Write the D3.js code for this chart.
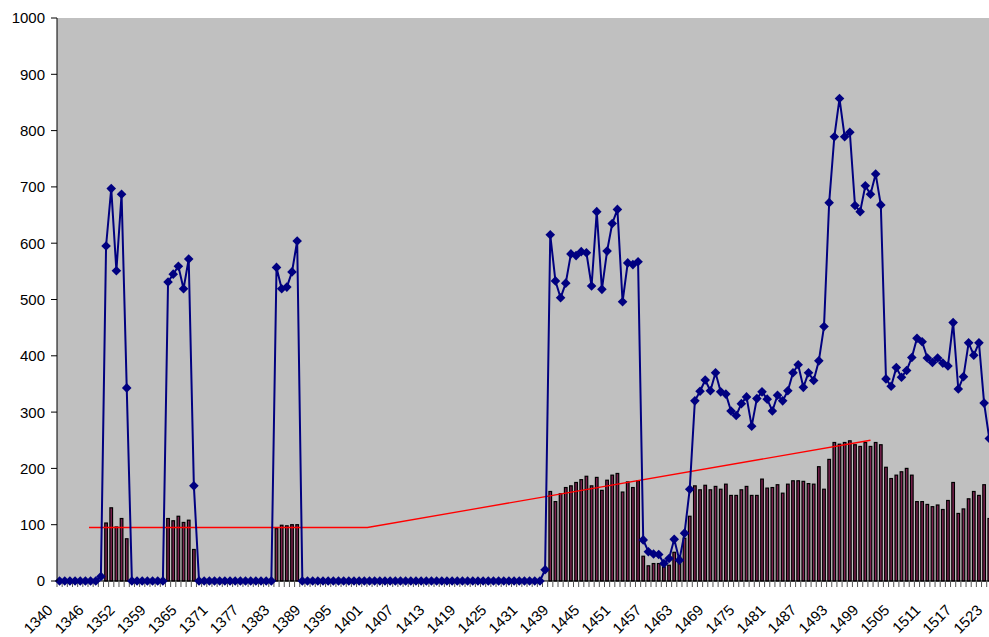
<!DOCTYPE html>
<html><head><meta charset="utf-8">
<script src="https://cdn.jsdelivr.net/npm/d3@7"></script>
<style>
body{margin:0;background:#fff;overflow:hidden}
text{font-family:"Liberation Sans",Arial,sans-serif;fill:#000}
</style>
</head><body><svg id="c" width="989" height="637"></svg>
<script>
// ---- categories (years; a few years are absent from the source series) ----
const years = [
1340,1341,1342,1343,1344,1345,1346,1347,1348,1349,1350,1351,1352,
1353,1354,1355,1356,1358,
1359,1360,1361,1362,1363,1364,1365,1366,1367,1368,1369,1370,1371,1372,1373,1374,1375,1376,1377,1378,1379,1380,
1381,1382,1383,1384,1385,1386,1387,1388,1389,1390,1391,1392,1393,1394,1395,1396,1397,1398,1399,1400,
1401,1402,1403,1404,1405,1406,1407,1408,1409,1410,1411,1412,1413,1414,1415,1416,1417,1418,1419,1420,
1421,1422,1423,1424,1425,1426,1427,1428,1429,1430,1431,
1432,1433,1434,1437,1438,
1439,1440,1441,1442,1443,1444,1445,1446,1447,1448,1449,1450,1451,1452,1453,1454,1455,1456,1457,1458,
1459,1460,1461,1462,1463,1464,1465,1466,1467,1468,1469,1470,1471,1472,1473,1474,1475,1476,1477,1478,
1479,1480,1481,1482,1483,1484,1485,1486,1487,1488,1489,1490,1491,1492,1493,1494,1495,1496,1497,1498,
1499,1500,1501,1502,1503,1504,1505,1506,1507,1508,1509,1510,1511,1512,1513,1514,1515,1516,1517,1518,
1519,1520,1521,1522,1523
];

// ---- line series (blue, diamonds) ----
const lineValues = [
0,0,0,0,0,0,0,0,8,595,697,551,687,343,
0,0,0,0,0,0,0,
531,545,559,519,572,169,
0,0,0,0,0,0,0,0,0,0,0,0,0,0,0,
557,519,522,549,604,
0,0,0,0,0,0,0,0,0,0,0,0,0,0,0,0,0,0,0,0,0,0,0,0,
0,0,0,0,0,0,0,0,0,0,0,0,0,0,0,0,0,0,0,0,0,0,0,
20,615,533,503,529,581,578,585,583,524,656,518,586,635,660,496,565,562,567,
73,52,48,47,31,40,74,37,85,163,
320,337,357,338,370,336,332,302,294,315,327,275,324,336,323,302,330,320,338,370,
384,344,370,356,391,452,672,789,857,789,797,667,656,702,687,723,668,
359,346,379,362,374,397,431,425,396,388,396,387,382,459,341,363,423,401,423,316,253
];

// ---- bar series ----
const barValues = [
0,0,0,0,0,0,0,0,0,103,130,96,111,75,
0,0,0,0,0,0,0,
111,107,115,104,108,56,
0,0,0,0,0,0,0,0,0,0,0,0,0,0,0,
93,99,98,100,100,
0,0,0,0,0,0,0,0,0,0,0,0,0,0,0,0,0,0,0,0,0,0,0,0,
0,0,0,0,0,0,0,0,0,0,0,0,0,0,0,0,0,0,0,0,0,0,0,0,
159,141,155,166,169,175,180,186,169,184,161,179,188,191,158,176,166,178,
44,27,31,31,25,28,51,43,76,115,
169,162,170,162,168,163,172,152,152,162,168,152,152,181,165,166,171,156,172,178,
178,177,173,172,203,163,216,246,243,246,249,242,239,246,239,246,242,
202,182,188,194,200,188,141,141,136,132,135,127,143,175,120,128,146,159,152,171,111
];

// ---- tick labels ----
const xTickLabels = ["1340","1346","1352","1359","1365","1371","1377","1383","1389","1395","1401","1407",
"1413","1419","1425","1431","1439","1445","1451","1457","1463","1469","1475","1481","1487","1493",
"1499","1505","1511","1517","1523"];
const yTickValues = [0,100,200,300,400,500,600,700,800,900,1000];

// ---- red reference line: [category position (index), value] ----
const refLinePoints = [[5.7,95],[59.6,95],[157,250]];

(function draw() {
  const pLeft = 57, pTop = 18, pBottom = 581;
  const pRight = pLeft + years.length * 5.165;
  const svg = d3.select('#c');

  const x = d3.scaleBand().domain(years).range([pLeft, pRight]).padding(0);
  const bw = x.bandwidth();
  const xPos = d3.scaleLinear().domain([0, years.length]).range([pLeft, pRight]);
  const y = d3.scaleLinear().domain([0, 1000]).range([pBottom, pTop]);
  const cx = yr => x(yr) + bw / 2;

  svg.append('rect').attr('x', pLeft).attr('y', pTop)
    .attr('width', pRight - pLeft).attr('height', pBottom - pTop).attr('fill', '#C0C0C0');

  const barW = bw * 0.74;
  svg.append('g').selectAll('rect')
    .data(years.map((yr, i) => ({yr, v: barValues[i]})).filter(d => d.v > 0))
    .join('rect')
    .attr('x', d => cx(d.yr) - barW / 2 + 0.6)
    .attr('y', d => y(d.v))
    .attr('width', barW - 1.2)
    .attr('height', d => y(0) - y(d.v))
    .attr('fill', '#7d2250').attr('stroke', '#000').attr('stroke-width', 1.2);

  svg.append('path')
    .attr('d', d3.line().x(d => xPos(d[0] + 0.5)).y(d => y(d[1]))(refLinePoints))
    .attr('fill', 'none').attr('stroke', '#FF0000').attr('stroke-width', 1.3);

  svg.append('line').attr('x1', pLeft).attr('x2', pRight).attr('y1', pBottom).attr('y2', pBottom)
    .attr('stroke', '#000').attr('stroke-width', 1);
  svg.append('g').selectAll('line').data(d3.range(years.length + 1)).join('line')
    .attr('x1', i => xPos(i)).attr('x2', i => xPos(i))
    .attr('y1', pBottom).attr('y2', pBottom + 6)
    .attr('stroke', '#555').attr('stroke-width', 1);

  const pts = years.map((yr, i) => [cx(yr), y(lineValues[i])]);
  svg.append('path').attr('d', d3.line()(pts))
    .attr('fill', 'none').attr('stroke', '#000080').attr('stroke-width', 2).attr('stroke-linejoin', 'round');
  const s = 4.8;
  svg.append('g').selectAll('path').data(pts).join('path')
    .attr('d', p => `M${p[0]},${p[1]-s}L${p[0]+s},${p[1]}L${p[0]},${p[1]+s}L${p[0]-s},${p[1]}Z`)
    .attr('fill', '#000080');

  svg.append('line').attr('x1', pLeft).attr('x2', pLeft).attr('y1', pTop).attr('y2', pBottom)
    .attr('stroke', '#000').attr('stroke-width', 1);
  const yg = svg.append('g');
  yg.selectAll('line').data(yTickValues).join('line')
    .attr('x1', pLeft - 6).attr('x2', pLeft).attr('y1', d => y(d)).attr('y2', d => y(d))
    .attr('stroke', '#000');
  yg.selectAll('text').data(yTickValues).join('text')
    .attr('x', 45).attr('y', d => y(d)).attr('dy', '0.36em')
    .attr('text-anchor', 'end').attr('font-size', 15).text(d => d);

  svg.append('g').selectAll('text').data(xTickLabels).join('text')
    .attr('transform', d => `translate(${cx(+d) - 6},${pBottom + 30}) rotate(-45)`)
    .attr('text-anchor', 'end').attr('font-size', 15).text(d => d);
})();
</script>
</body></html>
